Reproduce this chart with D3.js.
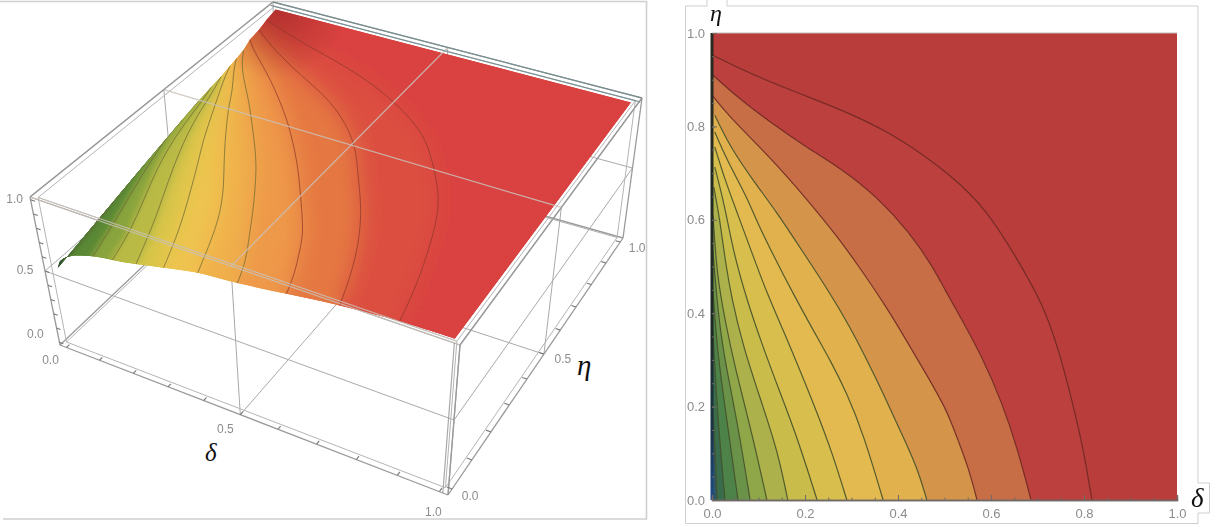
<!DOCTYPE html>
<html><head><meta charset="utf-8">
<style>
html,body{margin:0;padding:0;background:#fff;overflow:hidden}
svg{display:block;font-family:"Liberation Sans",Arial,sans-serif}
.tick3d,.tick2d{fill:#8c8c8c}
.sym{font-family:"Liberation Serif",serif;font-style:italic;fill:#111}
</style>
<script src="https://cdn.jsdelivr.net/npm/d3@7"></script>
</head><body>
<svg id="c" width="1225" height="527"></svg>
<script>
// ---- Data: contour lines, as [delta, eta] ----
const contour01=[[.001,.214],[.006,.113],[.011,0]];
const contour02=[[.002,.364],[.009,.229],[.017,.122],[.028,0]];
const contour03=[[.002,.450],[.011,.321],[.028,.199],[.056,0]];
const contour04=[[.002,.535],[.011,.422],[.024,.315],[.054,.171],[.082,0]];
const contour05=[[.002,.610],[.011,.478],[.028,.385],[.049,.285],[.088,.135],[.118,0]];
const contour06=[[.004,.670],[.017,.600],[.028,.514],[.043,.428],[.067,.328],[.110,.199],[.142,.101],[.163,0]];
const contour07=[[.006,.713],[.028,.627],[.045,.535],[.075,.428],[.108,.332],[.146,.231],[.183,.135],[.226,0]];
const contour08=[[.006,.756],[.028,.685],[.056,.610],[.086,.529],[.118,.443],[.153,.364],[.189,.278],[.222,.197],[.258,.103],[.290,0]];
const contour09=[[.006,.788],[.032,.728],[.075,.649],[.097,.595],[.135,.518],[.174,.443],[.215,.368],[.254,.300],[.290,.229],[.325,.143],[.368,0]];
const contour10=[[.006,.824],[.039,.756],[.088,.685],[.140,.615],[.183,.550],[.254,.443],[.297,.370],[.333,.300],[.368,.229],[.404,.150],[.441,.071],[.462,0]];
const contour11=[[0,.867],[.034,.824],[.125,.734],[.206,.642],[.269,.565],[.318,.497],[.372,.418],[.415,.347],[.458,.274],[.505,.193],[.529,.128],[.551,.071],[.570,0]];
const contour12=[[.002,.910],[.054,.863],[.125,.809],[.196,.760],[.282,.707],[.355,.649],[.426,.572],[.475,.499],[.501,.450],[.538,.385],[.581,.306],[.624,.208],[.658,.107],[.686,0]];
const contour13=[[0,.953],[.088,.910],[.196,.867],[.290,.831],[.383,.786],[.454,.739],[.512,.696],[.587,.627],[.658,.514],[.710,.422],[.744,.328],[.774,.214],[.798,.113],[.817,0]];
const contours=[contour01,contour02,contour03,contour04,contour05,contour06,contour07,contour08,contour09,contour10,contour11,contour12,contour13];
// surface height of each contour where it meets the delta=0 edge and the eta=0 edge
const levelsAtLeftEdge=[.607,.682,.725,.767,.805,.835,.856,.878,.894,.912,.933,.955,.977];
const levelsAtFrontEdge=[.52,.56,.60,.635,.69,.715,.745,.79,.84,.865,.91,.957,.99];
// delta where each contour of the 3D surface meets the front edge
const frontDelta=[.005,.012,.028,.05,.115,.17,.235,.31,.40,.5,.62,.745,.88];
// band colours, band i lies below contour i (index 13 = above last contour)
const flatColors=["#2E5669","#396C4C","#4E8248","#6B9349","#8FA64A","#ADB14B","#C9BC4B","#D8BF4D","#E2BA4F","#E0B14D","#D4944A","#C86E47","#BC3F3C","#B93C3B"];
const surfaceColors=["#0F2C48","#1F4A2A","#2A5C2C","#3B6E2F","#5A8835","#8AA43C","#B9BA44","#DAC64A","#EFC450","#F0B04C","#EE9848","#E57843","#DC5040","#D94240"];
const corner00={delta:0,eta:0,z:.5}, corner10={delta:1,eta:0,z:1}, corner11={delta:1,eta:1,z:1}, corner01={delta:0,eta:1,z:1};
const tickLabels=[0,.2,.4,.6,.8,1];
const minorTicks=d3.range(0,21).map(i=>i/20);
const tick3dMajor=[0,.5,1];
const tick3dMinor=d3.range(0,11).map(i=>i/10);

// ---- Layout ----
const svg=d3.select("#c");
const defs=svg.append("defs");
function blur(id,s){const f=defs.append("filter").attr("id",id).attr("x","-10%").attr("y","-10%").attr("width","120%").attr("height","120%");f.append("feGaussianBlur").attr("stdDeviation",s);}
blur("soft",.55);blur("smooth",11);blur("smoothNarrow",3);
const edgeGrad=defs.append("linearGradient").attr("id","edge").attr("gradientUnits","userSpaceOnUse").attr("x1",0).attr("x2",0).attr("y1",33).attr("y2",500);
[[0,"#2a2a22"],[.6,"#1e2a20"],[.85,"#1c3346"],[1,"#1f4a86"]].forEach(s=>edgeGrad.append("stop").attr("offset",s[0]).attr("stop-color",s[1]));

// panel frames
const frames=svg.append("g").attr("fill","none").attr("stroke","#cfcfcf");
frames.append("path").attr("stroke-width",1.6).attr("d","M0,1.5H646.5V519H3");
frames.append("path").attr("stroke-width",1).attr("d","M707,0V6H685.5V523.5H1198V513H1209.5V483H1198V6H727V0");

// ---- Right: contour map ----
const x=d3.scaleLinear().domain([0,1]).range([712,1177]);
const y=d3.scaleLinear().domain([0,1]).range([500,33]);
const line2=d3.line().x(d=>x(d[0])).y(d=>y(d[1])).curve(d3.curveBasis);
const R=svg.append("g").attr("filter","url(#soft)");
R.append("rect").attr("x",x(0)).attr("y",y(1)).attr("width",x(1)-x(0)).attr("height",y(0)-y(1)).attr("fill",flatColors[13]);
for(let i=12;i>=0;i--){
  R.append("path").attr("d",line2(contours[i])+`L${x(0)},${y(0)}L${x(0)},${y(contours[i][0][1])}Z`).attr("fill",flatColors[i]);
}
contours.forEach((c,i)=>R.append("path").attr("d",line2(c)).attr("fill","none").attr("stroke",i>9?"#6e2a24":"#45512a").attr("stroke-opacity",.9).attr("stroke-width",1.2));
R.append("line").attr("x1",x(0)).attr("x2",x(0)+.01).attr("y1",y(1)).attr("y2",y(0)).attr("stroke","url(#edge)").attr("stroke-width",3);
R.append("line").attr("x1",x(0)).attr("x2",x(1)).attr("y1",y(1)).attr("y2",y(1)).attr("stroke","#c4b9b6");
const axB=d3.axisBottom(x).tickValues(minorTicks).tickSize(-2.5).tickFormat("");
const axBm=d3.axisBottom(x).tickValues(tickLabels).tickSize(-5).tickPadding(9).tickFormat(d3.format(".1f"));
const axL=d3.axisLeft(y).tickValues(minorTicks).tickSize(-2.5).tickFormat("");
const axLm=d3.axisLeft(y).tickValues(tickLabels).tickSize(-5).tickPadding(7).tickFormat(d3.format(".1f"));
[[axB,`translate(0,500)`],[axBm,`translate(0,500)`],[axL,`translate(712,0)`],[axLm,`translate(712,0)`]].forEach(a=>{
  const g=R.append("g").attr("transform",a[1]).call(a[0]);
  g.select(".domain").attr("stroke",a[1].includes("0,500")?"#6f6a66":"none").attr("stroke-width",1.4);
  g.selectAll("line").attr("stroke","#6f6a66");
  g.selectAll("text").attr("class","tick2d").attr("font-size",13).attr("font-family","Liberation Sans").attr("fill","#8c8c8c");
});
svg.append("text").attr("class","sym").attr("x",710).attr("y",21).attr("font-size",24).text("η");
svg.append("text").attr("class","sym").attr("x",1191).attr("y",507).attr("font-size",27).text("δ");

// ---- Left: 3D box projected by two plane homographies ----
const pad=.02;
const topQuad=[[30,197],[460,345],[642,98],[273,2]];     // box corners at top of the box: (d0,e0),(d1,e0),(d1,e1),(d0,e1)
const botQuad=[[60,345],[448,495],[623,238],[276,140]];
function homography(q){
  const [[x0,y0],[x1,y1],[x2,y2],[x3,y3]]=q;
  const dx1=x1-x2,dx2=x3-x2,sx=x0-x1+x2-x3,dy1=y1-y2,dy2=y3-y2,sy=y0-y1+y2-y3;
  const det=dx1*dy2-dx2*dy1;
  const g=(sx*dy2-dx2*sy)/det,h=(dx1*sy-sx*dy1)/det;
  const a=x1-x0+g*x1,b=x3-x0+h*x3,c=x0,d=y1-y0+g*y1,e=y3-y0+h*y3,f=y0;
  return (u,v)=>{const w=g*u+h*v+1;return [(a*u+b*v+c)/w,(d*u+e*v+f)/w];};
}
const hTop=homography(topQuad),hBot=homography(botQuad);
const boxScale=d3.scaleLinear().domain([-pad,1+pad]).range([0,1]);
function project(d,e,z){
  const u=boxScale(d),v=boxScale(e),w=boxScale(z);
  const a=hBot(u,v),b=hTop(u,v);
  return [a[0]+(b[0]-a[0])*w,a[1]+(b[1]-a[1])*w];
}
const line3=d3.line().curve(d3.curveBasis);
const straight=d3.line();
const smooth=d3.line().curve(d3.curveCatmullRom);
// a contour lifted on the surface
function lift(i){
  const c=contours[i],end=c[c.length-1][0],top=c[0][1];
  const dz=d3.scaleLinear().domain([0,top]).range([levelsAtFrontEdge[i],levelsAtLeftEdge[i]]);
  const dd=d3.scaleLinear().domain([0,end]).range([0,frontDelta[i]]);
  return c.map(p=>project(dd(p[0]),p[1],dz(p[1])));
}
const lifted=contours.map((c,i)=>lift(i));
const pt=o=>project(o.delta,o.eta,o.z);

const lo=-pad,hi=1+pad;
function seg(a,b){return straight([project(...a),project(...b)]);}
function boxEdges(l,h){return [
 [[l,l,l],[h,l,l]],[[h,l,l],[h,h,l]],[[h,h,l],[l,h,l]],[[l,h,l],[l,l,l]],
 [[l,l,h],[h,l,h]],[[h,l,h],[h,h,h]],[[h,h,h],[l,h,h]],[[l,h,h],[l,l,h]],
 [[l,l,l],[l,l,h]],[[h,l,l],[h,l,h]],[[h,h,l],[h,h,h]]];}
const L=svg.append("g").attr("filter","url(#soft)");
const back=L.append("g").attr("fill","none").attr("stroke","#a9a9a9").attr("stroke-width",1);
const grids=[
 [[.5,lo,lo],[.5,hi,lo]],[[lo,.5,lo],[hi,.5,lo]],
 [[lo,lo,.5],[hi,lo,.5]],[[hi,lo,.5],[hi,hi,.5]],[[hi,hi,.5],[lo,hi,.5]],[[lo,hi,.5],[lo,lo,.5]],
 [[.5,lo,lo],[.5,lo,hi]],[[hi,.5,lo],[hi,.5,hi]],[[lo,.5,lo],[lo,.5,hi]],[[.5,hi,lo],[.5,hi,hi]],
 [[lo,hi,lo],[lo,hi,hi]]];
grids.forEach(g=>back.append("path").attr("d",seg(g[0],g[1])));
boxEdges(lo,hi).forEach(g=>back.append("path").attr("d",seg(g[0],g[1])).attr("stroke","#9a9a9a").attr("stroke-width",1.3));
boxEdges(lo+.012,hi-.012).forEach(g=>back.append("path").attr("d",seg(g[0],g[1])).attr("stroke","#b4b4b4"));

// surface
const frontEdge=[pt(corner00)].concat(lifted.map(c=>c[c.length-1])).concat([pt(corner10)]);
const rest=[pt(corner11),pt(corner01)].concat(lifted.map(c=>c[0]).reverse());
const clip=defs.append("clipPath").attr("id","surf");
clip.append("path").attr("d",smooth(frontEdge)+straight(rest).replace("M","L")+"Z");
const S=L.append("g").attr("clip-path","url(#surf)");
function bandPath(i){
  const inner=i>0?lifted[i-1]:[pt(corner00)];
  const outer=i<13?lifted[i]:[pt(corner01),pt(corner11),pt(corner10)];
  return straight(inner.concat(outer.slice().reverse()))+"Z";
}
function drawBands(g,ids){
  ids.forEach(i=>g.append("path").attr("d",bandPath(i)).attr("fill",surfaceColors[i]).attr("stroke",surfaceColors[i]).attr("stroke-width",3));
}
drawBands(S.append("g"),d3.range(14));
drawBands(S.append("g").attr("filter","url(#smooth)"),d3.range(14));
drawBands(S.append("g").attr("filter","url(#smoothNarrow)"),d3.range(0,7));
// darker shading at the far corner
const pc=pt(corner01);
const sh=defs.append("radialGradient").attr("id","corner").attr("gradientUnits","userSpaceOnUse").attr("cx",pc[0]).attr("cy",pc[1]).attr("r",70);
sh.append("stop").attr("offset",0).attr("stop-color","#7a1512").attr("stop-opacity",.4);
sh.append("stop").attr("offset",1).attr("stop-color","#7a1512").attr("stop-opacity",0);
S.append("circle").attr("cx",pc[0]).attr("cy",pc[1]).attr("r",70).attr("fill","url(#corner)");
lifted.forEach((c,i)=>S.append("path").attr("d",line3(c)).attr("fill","none").attr("stroke",i>9?"#8f3a2c":"#6f6a35").attr("stroke-opacity",.75).attr("stroke-width",1));

// lines that show in front of the surface
const front=L.append("g").attr("fill","none").attr("stroke","#c9c2ba").attr("stroke-opacity",.85).attr("stroke-width",1.2);
[[[.5,lo,hi],[.5,hi,hi]],[[lo,.5,hi],[hi,.5,hi]],[[lo,lo,hi],[hi,lo,hi]],[[lo+.012,lo+.012,hi-.012],[hi-.012,lo+.012,hi-.012]]]
 .forEach(g=>front.append("path").attr("d",seg(g[0],g[1])));
[[[lo,hi,hi],[hi,hi,hi]],[[lo,hi-.012,hi-.012],[hi,hi-.012,hi-.012]]]
 .forEach(g=>front.append("path").attr("d",seg(g[0],g[1])).attr("stroke","#6f8a8c"));
[[[lo,lo,hi],[lo,hi,hi]],[[hi,lo,hi],[hi,hi,hi]],[[hi,lo,lo],[hi,lo,hi]],[[hi-.012,lo,lo],[hi-.012,lo,hi]]]
 .forEach(g=>front.append("path").attr("d",seg(g[0],g[1])).attr("stroke","#9a9a9a"));

// ticks on the three labelled box edges
const tk=L.append("g").attr("stroke","#777").attr("stroke-width",1.1);
tick3dMinor.forEach(t=>{
  const a=project(t,lo,lo),b=project(t,lo+.012,lo);
  tk.append("line").attr("x1",a[0]).attr("y1",a[1]).attr("x2",b[0]).attr("y2",b[1]);
  const c=project(hi,t,lo),e=project(hi-.012,t,lo);
  tk.append("line").attr("x1",c[0]).attr("y1",c[1]).attr("x2",e[0]).attr("y2",e[1]);
  const f=project(lo,lo,t),h=project(lo+.012,lo,t);
  tk.append("line").attr("x1",f[0]).attr("y1",f[1]).attr("x2",h[0]).attr("y2",h[1]);
});
const fmt=d3.format(".1f");
const deltaLabelOffsets=[[-16,16],[-15,18],[-6,24]];
const etaLabelOffsets=[[18,11],[19,9],[17,10]];
const zLabelOffsets=[[-24,-4],[-20,3],[-16,3]];
tick3dMajor.forEach((t,i)=>{
  [[project(t,lo,lo),deltaLabelOffsets[i]],[project(hi,t,lo),etaLabelOffsets[i]],[project(lo,lo,t),zLabelOffsets[i]]].forEach(([p,o])=>{
    L.append("text").attr("class","tick3d").attr("x",p[0]+o[0]).attr("y",p[1]+o[1]).attr("text-anchor","middle").attr("font-size",12).text(fmt(t));
  });
});
svg.append("text").attr("class","sym").attr("x",205).attr("y",461).attr("font-size",25).text("δ");
svg.append("text").attr("class","sym").attr("x",577).attr("y",375).attr("font-size",29).text("η");
</script>
</body></html>
